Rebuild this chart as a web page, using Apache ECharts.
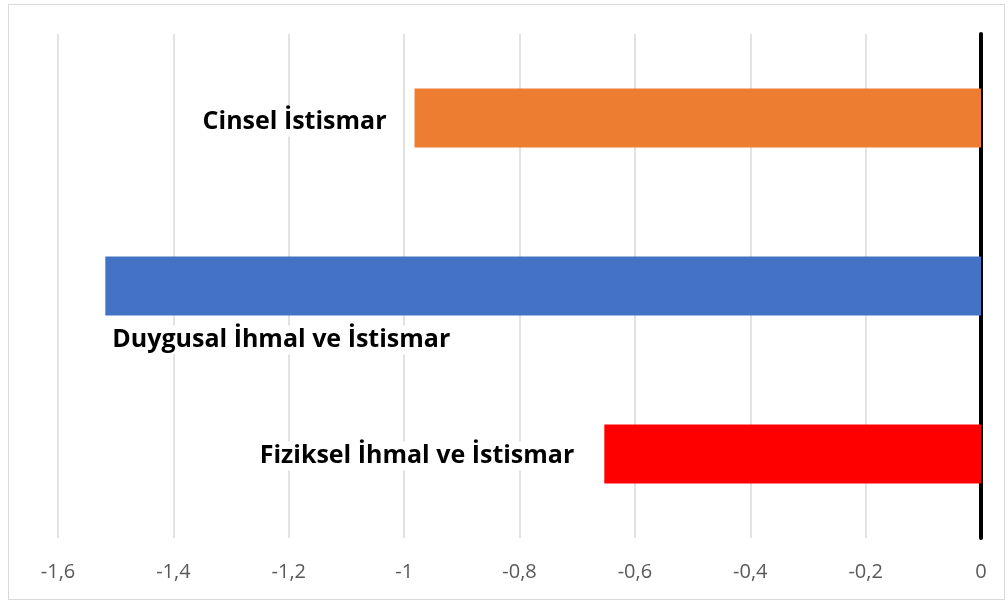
<!DOCTYPE html>
<html>
<head>
<meta charset="utf-8">
<script src="https://cdn.jsdelivr.net/npm/echarts@6/dist/echarts.min.js"></script>
<style>
  html, body { margin: 0; padding: 0; background: #fff; }
  #chart { width: 1008px; height: 604px; }
  .frame { position: absolute; left: 8px; top: 4px; width: 997px; height: 596px; border: 1.5px solid #d9d9d9; box-sizing: border-box; pointer-events: none; }
</style>
</head>
<body>
<div id="chart"></div>
<div class="frame"></div>
<script>
const categories = ["Cinsel İstismar", "Duygusal İhmal ve İstismar", "Fiziksel İhmal ve İstismar"];
const values = [-0.982, -1.518, -0.653];
const barColors = ["#ed7d31", "#4472c4", "#ff0000"];

const labelBase = {
  show: true,
  formatter: "{b}",
  fontFamily: "Open Sans",
  fontWeight: "bold",
  fontSize: 25,
  color: "#000",
  backgroundColor: "#fff",
  padding: [2, 4],
};

// label placement per bar (left of the bar, or under it when it doesn't fit)
const labelPlacement = [
  { position: "left", distance: 24, offset: [0, 4] },
  { position: "insideBottomLeft", offset: [-2, 44] },
  { position: "left", distance: 26, offset: [0, 2] },
];

const seriesData = values.map((v, i) => ({
  value: v,
  itemStyle: { color: barColors[i] },
  label: Object.assign({}, labelBase, labelPlacement[i]),
}));

const chart = echarts.init(document.getElementById("chart"));
chart.setOption({
  animation: false,
  grid: { left: 58, right: 27, top: 34, bottom: 66 },
  xAxis: {
    type: "value",
    min: -1.6,
    max: 0,
    interval: 0.2,
    axisLine: { show: false },
    axisTick: { show: false },
    splitLine: { lineStyle: { color: "#d9d9d9", width: 1.5 } },
    axisLabel: {
      margin: 24,
      fontFamily: "Open Sans",
      fontSize: 20,
      color: "#595959",
      formatter: (v) => String(Math.round(v * 10) / 10).replace(".", ","),
    },
  },
  yAxis: {
    type: "category",
    inverse: true,
    data: categories,
    axisLine: { onZero: true, lineStyle: { color: "#000", width: 4, cap: "round" } },
    axisTick: { show: false },
    axisLabel: { show: false },
  },
  series: [
    {
      type: "bar",
      barWidth: "35%",
      data: seriesData,
    },
  ],
});
</script>
</body>
</html>
